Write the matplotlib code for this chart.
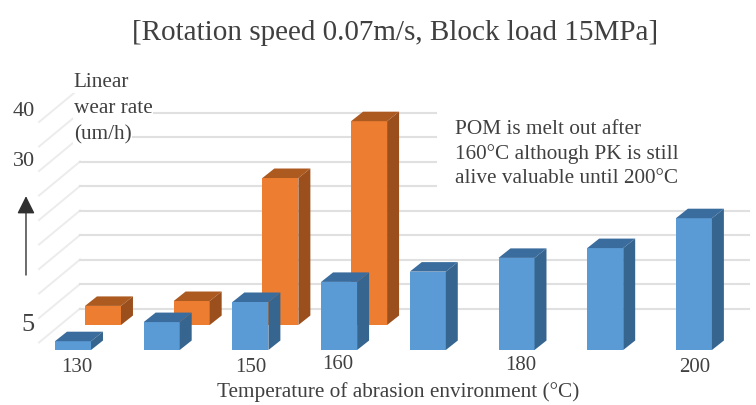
import matplotlib
matplotlib.use('Agg')
import matplotlib.pyplot as plt

plt.rcParams['font.family'] = ['Liberation Serif', 'DejaVu Serif']

# values (um/h)
pk = [1.8, 5.7, 9.8, 13.9, 16.0, 18.8, 20.8, 26.9]
pom = [3.9, 4.9, 30.0, 41.6]
grid_vals = [5, 10, 15, 20, 25, 30, 35, 40, 45]
tick_pos = [0, 2, 3, 5, 7]
tick_names = ['130', '150', '160', '180', '200']
tick_nudge_x = [0.045, 0.01, -0.02, 0.045, 0.01]
tick_nudge_y = [0.0, 0.0, 0.6, 0.4, 0.0]
y_names = ['5', '30', '40']

grey = '#404040'
bar_w = 0.406
dep_x = 0.135
dep_y = 1.94
# how far the back row sits from the front row
row_x = 0.338
row_y = 5.1
wall_y = 3.47


def draw_bars(vals, shift_x, shift_y, front, top, side, z):
    for i, v in enumerate(vals):
        left = i - bar_w / 2 + shift_x
        right = left + bar_w
        ax.bar(left, v, bar_w, bottom=shift_y, align='edge', color=front, zorder=z + i * 0.1)
        h = shift_y + v
        ax.fill([left, right, right + dep_x, left + dep_x], [h, h, h + dep_y, h + dep_y],
                color=top, lw=0, zorder=z + i * 0.1)
        ax.fill([right, right + dep_x, right + dep_x, right],
                [shift_y, shift_y + dep_y, h + dep_y, h], color=side, lw=0, zorder=z + i * 0.1)


fig = plt.figure(figsize=(7.56, 4.05), dpi=100)
ax = fig.add_axes([0, 0, 1, 1])
ax.set_xlim(-0.823, 7.7)
ax.set_ylim(-11.22, 71.43)
ax.axis('off')

for g in grid_vals + [50]:
    ax.plot([-0.383, 0.08], [g + wall_y - 6.94, g + wall_y], color='#ececec', lw=1.4, zorder=1)
for g in grid_vals:
    # the note box hides the right part of the upper lines
    end = 4.09 if g > 25 else 7.62
    ax.plot([0.08, end], [g + wall_y, g + wall_y], color='#e0e0e0', lw=1.5, zorder=1)

draw_bars(pom, row_x, row_y, '#ed7d31', '#ad5a21', '#9a4f1c', 3)
draw_bars(pk, 0, 0, '#5b9bd5', '#3b6c9e', '#36658f', 5)

for p, name, nx, ny in zip(tick_pos, tick_names, tick_nudge_x, tick_nudge_y):
    ax.text(p + nx, -3.5 + ny, name, ha='center', va='center', fontsize=15, color=grey, zorder=9)

for name, x, y, size in zip(y_names, [-0.51, -0.55, -0.55], [5.2, 38.4, 48.7], [19, 16, 16]):
    ax.text(x, y, name, ha='center', va='center', fontsize=size, color=grey, zorder=9)

for line, y in zip(['Linear', 'wear rate', '(um/h)'], [54.6, 49.3, 44.0]):
    ax.text(0.01, y, line, ha='left', va='center', fontsize=15.3, color=grey, zorder=8,
            bbox=dict(fc='white', ec='none', pad=0.5))

ax.text(4.31, 40.0, 'POM is melt out after\n160°C although PK is still\nalive valuable until 200°C',
        ha='left', va='center', fontsize=15.3, color=grey, linespacing=1.38, zorder=9)

ax.annotate('', xy=(-0.53, 31.4), xytext=(-0.53, 15.3),
            arrowprops=dict(arrowstyle='-|>,head_width=0.54,head_length=1.08', color='#303030',
                            lw=1, shrinkA=0, shrinkB=0))

ax.text(3.66, -8.5, 'Temperature of abrasion environment (°C)', ha='center', va='center',
        fontsize=15.3, color=grey)
ax.text(3.63, 64.6, '[Rotation speed 0.07m/s, Block load 15MPa]', ha='center', va='center',
        fontsize=21, color=grey)

fig.savefig('out.png', dpi=100)
